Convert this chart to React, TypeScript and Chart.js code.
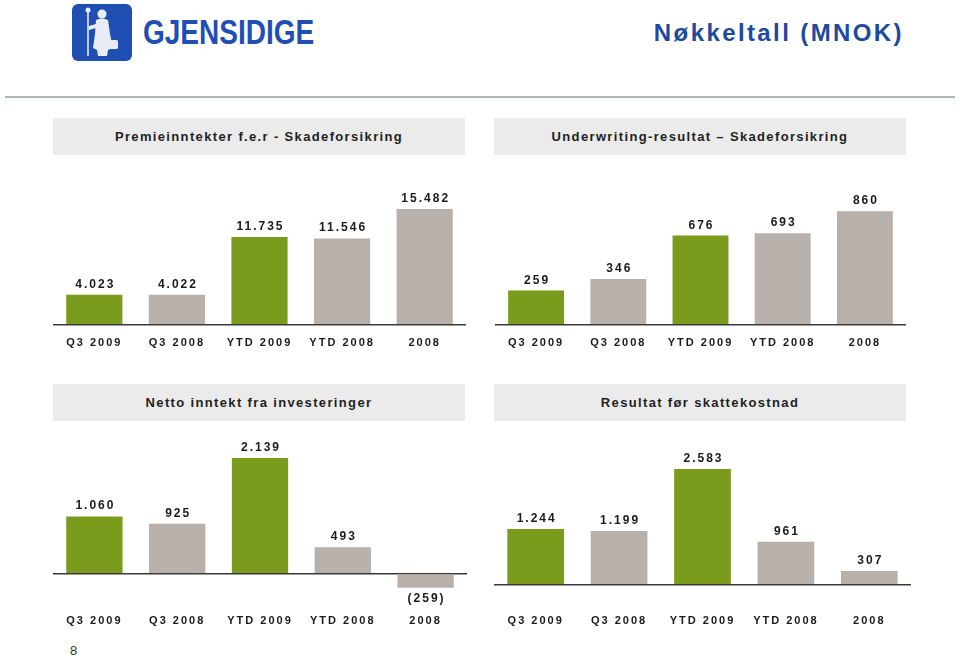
import React, { useEffect, useRef } from "react";
import { Chart, registerables } from "chart.js";

Chart.register(...registerables);

// ---- Data ----
const categories = ["Q3 2009", "Q3 2008", "YTD 2009", "YTD 2008", "2008"];
const premieValues = [4023, 4022, 11735, 11546, 15482];
const underwritingValues = [259, 346, 676, 693, 860];
const nettoValues = [1060, 925, 2139, 493, -259];
const resultatValues = [1244, 1199, 2583, 961, 307];

const panelTitles = [
  "Premieinntekter f.e.r - Skadeforsikring",
  "Underwriting-resultat \u2013 Skadeforsikring",
  "Netto inntekt fra investeringer",
  "Resultat før skattekostnad",
];

const GREEN = "#7b9b1d";
const GRAY = "#b8b0aa";
const barColors = [GREEN, GRAY, GREEN, GRAY, GRAY];

const FONT = '"Liberation Sans", Arial, Helvetica, sans-serif';

function formatValue(v: number): string {
  const s = Math.abs(Math.round(v)).toString();
  const withDots = s.replace(/\B(?=(\d{3})+(?!\d))/g, ".");
  return v < 0 ? "(" + withDots + ")" : withDots;
}

const spacingPlugin = {
  id: "spacing",
  beforeUpdate(chart: any) {
    chart.ctx.letterSpacing = "2px";
  },
  beforeLayout(chart: any) {
    chart.ctx.letterSpacing = "2px";
  },
  beforeDraw(chart: any) {
    chart.ctx.letterSpacing = "2px";
  },
};

const valueLabelPlugin = {
  id: "valueLabels",
  afterDatasetsDraw(chart: any) {
    const ctx = chart.ctx;
    const meta = chart.getDatasetMeta(0);
    const data = chart.data.datasets[0].data as number[];
    ctx.save();
    ctx.font = "bold 12px " + FONT;
    ctx.letterSpacing = "2px";
    ctx.fillStyle = "#1a1a1a";
    ctx.textAlign = "center";
    meta.data.forEach((bar: any, i: number) => {
      const v = data[i];
      const txt = formatValue(v);
      if (v >= 0) {
        ctx.textBaseline = "alphabetic";
        ctx.fillText(txt, bar.x + 1, bar.y - 7);
      } else {
        ctx.textBaseline = "top";
        ctx.fillText(txt, bar.x + 1, bar.y + 5);
      }
    });
    ctx.restore();
  },
};

type PanelProps = {
  values: number[];
  left: number;
  top: number;
  width: number;
  height: number;
  yMin: number;
  yMax: number;
  tickPadding: number;
};

function BarPanel(p: PanelProps) {
  const ref = useRef<HTMLCanvasElement | null>(null);
  useEffect(() => {
    if (!ref.current) return;
    const chart = new Chart(ref.current, {
      type: "bar",
      data: {
        labels: categories,
        datasets: [
          {
            data: p.values,
            backgroundColor: barColors,
            borderWidth: 0,
            barPercentage: 0.68,
            categoryPercentage: 1.0,
          },
        ],
      },
      options: {
        responsive: false,
        animation: false,
        events: [],
        layout: { padding: 0 },
        plugins: {
          legend: { display: false },
          tooltip: { enabled: false },
          title: { display: false },
        },
        scales: {
          x: {
            grid: { display: false, drawTicks: false },
            border: { display: false },
            ticks: {
              color: "#1a1a1a",
              font: { family: FONT, size: 11, weight: "bold" },
              padding: p.tickPadding,
              maxRotation: 0,
              autoSkip: false,
            },
          },
          y: {
            min: p.yMin,
            max: p.yMax,
            border: { display: false },
            ticks: { display: false },
            grid: {
              drawTicks: false,
              lineWidth: 1.5,
              color: (c: any) =>
                c.tick && c.tick.value === 0 ? "#3a3a3a" : "rgba(0,0,0,0)",
            },
          },
        },
      },
      plugins: [spacingPlugin, valueLabelPlugin],
    });
    return () => chart.destroy();
  }, []);
  return (
    <canvas
      ref={ref}
      width={p.width}
      height={p.height}
      style={{
        position: "absolute",
        left: p.left,
        top: p.top,
        width: p.width,
        height: p.height,
      }}
    />
  );
}

function Band({ left, top, width, text }: { left: number; top: number; width: number; text: string }) {
  return (
    <div
      style={{
        position: "absolute",
        left,
        top,
        width,
        height: 37,
        background: "#ebebeb",
        color: "#1f1f1f",
        fontFamily: FONT,
        fontWeight: "bold",
        fontSize: 13,
        letterSpacing: "1.35px",
        lineHeight: "37px",
        textAlign: "center",
        whiteSpace: "nowrap",
      }}
    >
      {text}
    </div>
  );
}

function Logo() {
  return (
    <div style={{ position: "absolute", left: 72, top: 4 }}>
      <svg width={60} height={57} viewBox="0 0 60 57">
        <rect x={0} y={0} width={60} height={57} rx={6} fill="#1f4fb3" />
        <line x1={16} y1={6} x2={16} y2={52} stroke="#e8ecf4" strokeWidth={1.6} />
        <circle cx={16} cy={6} r={2.5} fill="#e8ecf4" />
        <circle cx={30} cy={10} r={4.5} fill="#e8ecf4" />
        <path
          d="M24 16 Q30 13 36 16 L38 30 L41 44 L36 46 L35 52 L26 52 L25 46 L21 44 L23 30 Z"
          fill="#e8ecf4"
        />
        <path d="M17 22 L24 20 L24 24 L17 26 Z" fill="#e8ecf4" />
        <rect x={38} y={36} width={8} height={9} rx={1.5} fill="#e8ecf4" />
      </svg>
    </div>
  );
}

export default function App() {
  return (
    <div
      style={{
        position: "absolute",
        left: 0,
        top: 0,
        width: 960,
        height: 658,
        background: "#ffffff",
        overflow: "hidden",
      }}
    >
      <Logo />
      <div
        style={{
          position: "absolute",
          left: 143,
          top: 9,
          fontFamily: FONT,
          fontWeight: "bold",
          fontSize: 35,
          color: "#1f4fb3",
          transform: "scaleX(0.8)",
          transformOrigin: "left top",
          whiteSpace: "nowrap",
          lineHeight: "46px",
        }}
      >
        GJENSIDIGE
      </div>
      <div
        style={{
          position: "absolute",
          right: 56,
          top: 18,
          fontFamily: FONT,
          fontWeight: "bold",
          fontSize: 24,
          letterSpacing: "2.4px",
          color: "#1b4a9e",
          lineHeight: "30px",
          whiteSpace: "nowrap",
        }}
      >
        Nøkkeltall (MNOK)
      </div>
      <div
        style={{
          position: "absolute",
          left: 5,
          top: 96,
          width: 950,
          height: 2,
          background: "#aab6bd",
        }}
      />

      <Band left={53} top={118} width={412} text={panelTitles[0]} />
      <Band left={494} top={118} width={412} text={panelTitles[1]} />
      <Band left={53} top={384} width={412} text={panelTitles[2]} />
      <Band left={494} top={384} width={412} text={panelTitles[3]} />

      <BarPanel values={premieValues} left={53} top={170} width={413} height={192} yMin={0} yMax={20700} tickPadding={12} />
      <BarPanel values={underwritingValues} left={495} top={170} width={411} height={192} yMin={0} yMax={1172} tickPadding={12} />
      <BarPanel values={nettoValues} left={53} top={430} width={414} height={207} yMin={-590} yMax={2655} tickPadding={9} />
      <BarPanel values={resultatValues} left={494} top={430} width={417} height={207} yMin={-468} yMax={3451} tickPadding={9} />

      <div
        style={{
          position: "absolute",
          left: 70,
          top: 643,
          fontFamily: FONT,
          fontSize: 13,
          color: "#333",
        }}
      >
        8
      </div>
    </div>
  );
}
